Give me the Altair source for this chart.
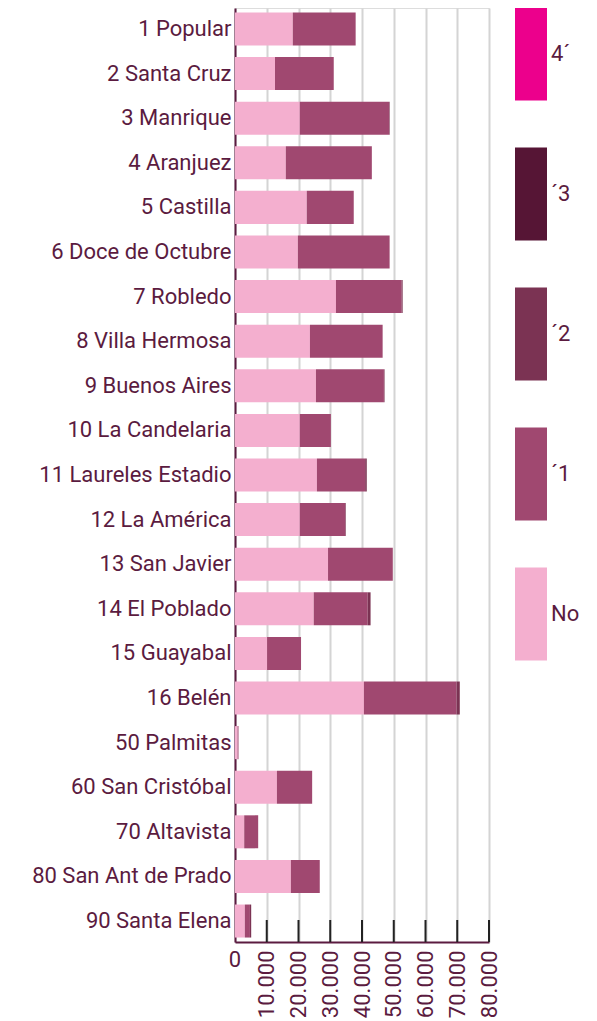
import altair as alt
import pandas as pd

categories = [
    "1 Popular", "2 Santa Cruz", "3 Manrique", "4 Aranjuez", "5 Castilla",
    "6 Doce de Octubre", "7 Robledo", "8 Villa Hermosa", "9 Buenos Aires",
    "10 La Candelaria", "11 Laureles Estadio", "12 La América", "13 San Javier",
    "14 El Poblado", "15 Guayabal", "16 Belén", "50 Palmitas", "60 San Cristóbal",
    "70 Altavista", "80 San Ant de Prado", "90 Santa Elena",
]
serie_no = [18200, 12600, 20400, 16000, 22600, 19800, 31800, 23600, 25500, 20400,
            25800, 20400, 29300, 24800, 10100, 40600, 800, 13200, 2900, 17600, 3100]
serie_1 = [19800, 18500, 28100, 27100, 14800, 28900, 20700, 22900, 21400, 9800,
           15200, 14300, 20400, 17000, 10700, 29200, 300, 11100, 4400, 9100, 1600]
serie_2 = [0, 0, 200, 0, 0, 0, 300, 0, 200, 0,
           500, 200, 0, 900, 0, 1000, 0, 0, 0, 0, 400]
serie_3 = [0, 0, 0, 0, 0, 0, 0, 0, 0, 0,
           0, 0, 0, 0, 0, 0, 0, 0, 0, 0, 0]
serie_4 = [0, 0, 0, 0, 0, 0, 0, 0, 0, 0,
           0, 0, 0, 0, 0, 0, 0, 0, 0, 0, 0]
series_names = ["No", "´1", "´2", "´3", "4´"]
series_colors = ["#f4afcf", "#a04870", "#7b3353", "#561535", "#ec008c"]
x_values = [0, 10000, 20000, 30000, 40000, 50000, 60000, 70000, 80000]
inner_ticks = [10000, 20000, 30000, 40000, 50000, 60000, 70000, 80000]
zero_label = ["0"]

PLUM = "#5b1b40"
FONT = "Roboto"
W, H = 254, 934

rows = []
for i, c in enumerate(categories):
    for k, (name, vals) in enumerate(zip(series_names, [serie_no, serie_1, serie_2, serie_3, serie_4])):
        rows.append({"cat": c, "serie": name, "value": vals[i], "ord": k})
df = pd.DataFrame(rows)

legend_order = ["4´", "´3", "´2", "´1", "No"]
legend_colors = [series_colors[series_names.index(s)] for s in legend_order]

x_scale = alt.Scale(domain=[0, 80000], nice=False)
x_axis = alt.Axis(
    title=None, values=x_values, ticks=False, grid=True,
    gridColor="#d4d4d4", gridWidth=2, domainColor=PLUM, domainWidth=2,
    labelFont=FONT, labelFontSize=22, labelColor=PLUM, labelPadding=8,
    labelAngle=-90, labelFlush=False, labelOverlap=False,
    labelExpr="datum.value == 0 ? '' : replace(format(datum.value, ',d'), ',', '.')",
)

bars = alt.Chart(df).mark_bar().encode(
    y=alt.Y(
        "cat:N", sort=categories,
        scale=alt.Scale(paddingInner=0.26, paddingOuter=0.1),
        axis=alt.Axis(title=None, ticks=False, domainColor=PLUM, domainWidth=2,
                      labelFont=FONT, labelFontSize=22, labelColor=PLUM,
                      labelPadding=4, labelLimit=400),
    ),
    x=alt.X("value:Q", stack="zero", scale=x_scale, axis=x_axis),
    color=alt.Color(
        "serie:N",
        scale=alt.Scale(domain=legend_order, range=legend_colors),
        legend=alt.Legend(
            title=None, orient="none", legendX=280, legendY=30,
            symbolType="M-1,-2.9H1V2.9H-1Z", symbolSize=1024,
            symbolStrokeWidth=0, symbolOpacity=1, rowPadding=46,
            labelFont=FONT, labelFontSize=22, labelColor=PLUM, labelOffset=4,
            padding=0,
        ),
    ),
    order=alt.Order("ord:Q"),
)

tick_df = pd.DataFrame({"value": inner_ticks})
ticks = alt.Chart(tick_df).mark_rule(color="#222222", strokeWidth=2).encode(
    x=alt.X("value:Q", scale=x_scale, axis=x_axis),
    y=alt.value(H - 22),
    y2=alt.value(H),
)

zero_df = pd.DataFrame({"value": [0], "label": zero_label})
zero_text = alt.Chart(zero_df).mark_text(
    font=FONT, fontSize=22, color=PLUM, align="center", baseline="top"
).encode(
    x=alt.X("value:Q", scale=x_scale, axis=x_axis),
    y=alt.value(H + 8),
    text="label:N",
)

chart = alt.layer(bars, ticks, zero_text).properties(
    width=W, height=H,
    autosize=alt.AutoSizeParams(type="none"),
    padding={"left": 227, "top": 0, "right": 100, "bottom": 78},
).configure_view(stroke=None).configure(background="white")

chart.save("out.html", embed_options={"renderer": "svg", "actions": False})
